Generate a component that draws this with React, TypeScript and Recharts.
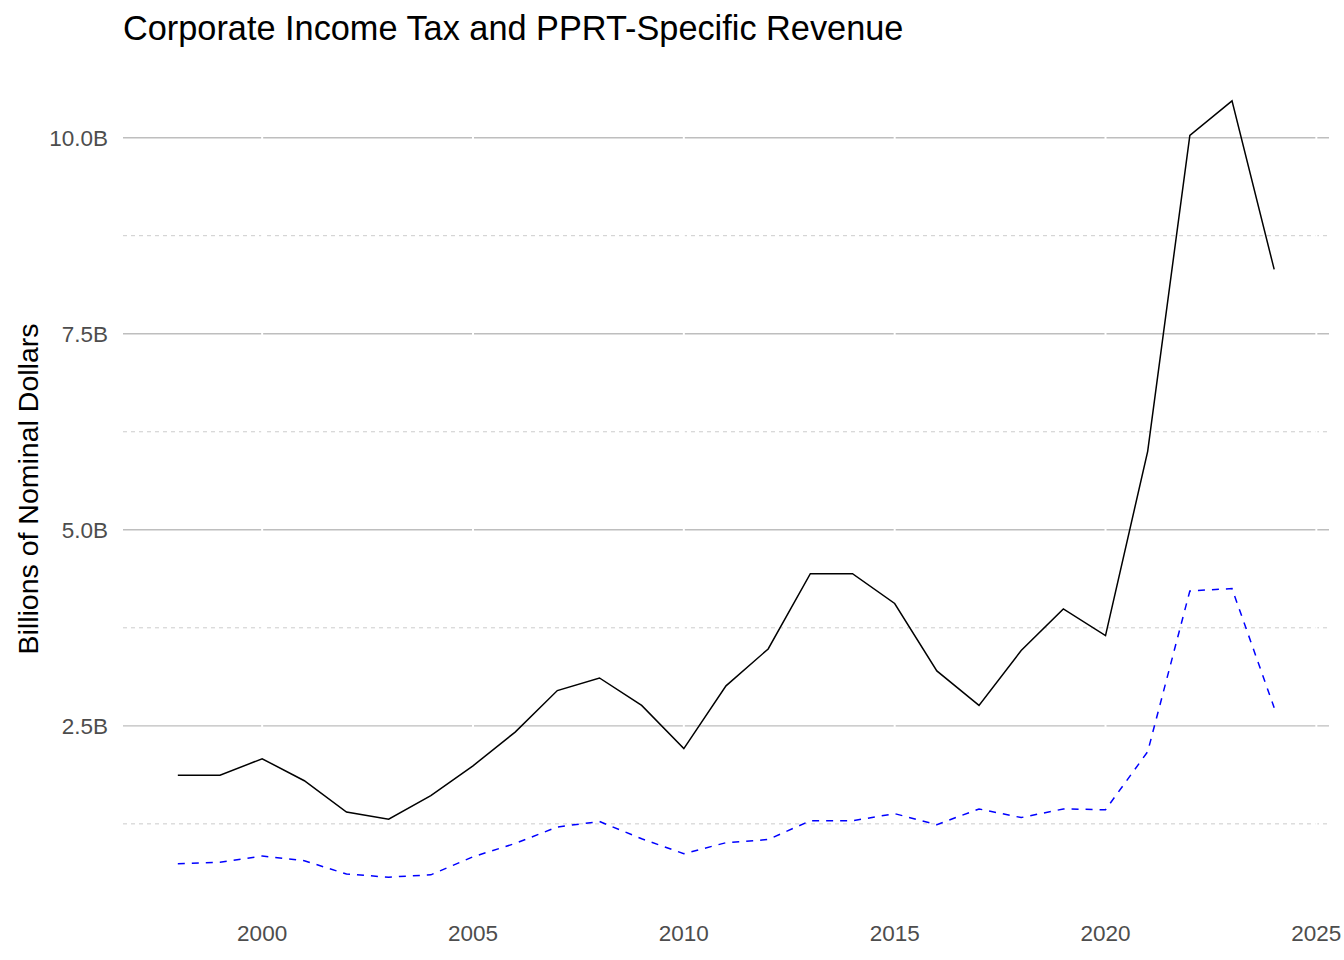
import React from 'react';
import { LineChart, Line, XAxis, YAxis, ReferenceLine } from 'recharts';

const FONT = '"Liberation Sans", Arial, sans-serif';

const years = [
  1998, 1999, 2000, 2001, 2002, 2003, 2004, 2005, 2006, 2007, 2008, 2009, 2010,
  2011, 2012, 2013, 2014, 2015, 2016, 2017, 2018, 2019, 2020, 2021, 2022, 2023, 2024,
];
// billions of nominal dollars
const corporateIncomeTax = [
  1.87, 1.87, 2.08, 1.8, 1.4, 1.31, 1.61, 1.99, 2.42, 2.95, 3.11, 2.76, 2.21,
  3.01, 3.48, 4.44, 4.44, 4.06, 3.2, 2.76, 3.46, 3.99, 3.65, 6.0, 10.03, 10.47, 8.32,
];
const pprtRevenue = [
  0.74, 0.76, 0.84, 0.78, 0.61, 0.57, 0.6, 0.83, 1.0, 1.21, 1.28, 1.06, 0.87,
  1.01, 1.05, 1.29, 1.29, 1.38, 1.24, 1.44, 1.33, 1.44, 1.43, 2.17, 4.22, 4.25, 2.73,
];

const xTicks = [2000, 2005, 2010, 2015, 2020, 2025];
const yTicks = [2.5, 5, 7.5, 10];
const yMinor = [1.25, 3.75, 6.25, 8.75];

const data = years.map((year, i) => ({
  year,
  cit: corporateIncomeTax[i],
  pprt: pprtRevenue[i],
}));

export default function App() {
  return (
    <div style={{ position: 'absolute', left: 0, top: 0, width: 1344, height: 960, background: '#fff', fontFamily: FONT }}>
      <div style={{ position: 'absolute', left: 123, top: 9, fontSize: 34.3, color: '#000', whiteSpace: 'nowrap' }}>
        Corporate Income Tax and PPRT-Specific Revenue
      </div>
      <div
        style={{
          position: 'absolute', left: 28, top: 489, fontSize: 28.5, color: '#000', whiteSpace: 'nowrap',
          transform: 'translate(-50%, -50%) rotate(-90deg)',
        }}
      >
        Billions of Nominal Dollars
      </div>
      <LineChart width={1344} height={960} data={data} margin={{ top: 62, right: 15, bottom: 0, left: 0 }}>
        {yMinor.map((v) => (
          <ReferenceLine key={'m' + v} y={v} stroke="#CCCCCC" strokeWidth={1} strokeDasharray="4 4" />
        ))}
        {yTicks.map((v) => (
          <ReferenceLine key={'M' + v} y={v} stroke="#BEBEBE" strokeWidth={1.4} />
        ))}
        {xTicks.map((v) => (
          <ReferenceLine key={'x' + v} x={v} stroke="#FFFFFF" strokeWidth={2} />
        ))}
        <XAxis
          dataKey="year"
          type="number"
          domain={[1996.7, 2025.3]}
          ticks={xTicks}
          allowDataOverflow
          axisLine={false}
          tickLine={false}
          tickMargin={3}
          height={44}
          tick={{ fill: '#4D4D4D', fontSize: 22.5, fontFamily: FONT }}
        />
        <YAxis
          type="number"
          domain={[0.075, 10.965]}
          ticks={yTicks}
          allowDataOverflow
          axisLine={false}
          tickLine={false}
          tickMargin={9}
          width={123}
          tickFormatter={(v: number) => `${v.toFixed(1)}B`}
          tick={{ fill: '#4D4D4D', fontSize: 22.5, fontFamily: FONT }}
        />
        <Line
          type="linear"
          dataKey="cit"
          stroke="#000000"
          strokeWidth={1.5}
          dot={false}
          isAnimationActive={false}
        />
        <Line
          type="linear"
          dataKey="pprt"
          stroke="#0000FF"
          strokeWidth={1.5}
          strokeDasharray="7 7"
          dot={false}
          isAnimationActive={false}
        />
      </LineChart>
    </div>
  );
}
